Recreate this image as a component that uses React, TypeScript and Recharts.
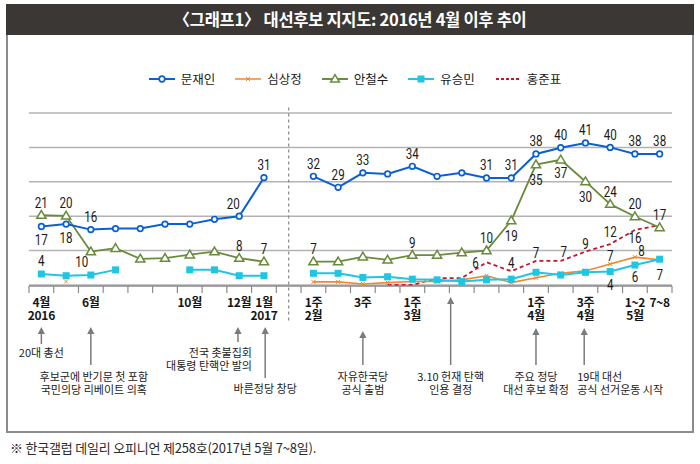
import React from 'react';
import { LineChart, Line, XAxis, YAxis, CartesianGrid, ReferenceLine, ReferenceDot } from 'recharts';

// ---------- data ----------
// 26 slots: 0..9 = 2016.4 ~ 2017.1 (monthly), 10 = break, 11..25 = 2017 weekly
const slotIndex = Array.from({ length: 26 }, (_, i) => i);

const moon = [17, 17.7, 16.1, 16.4, 16.4, 17.7, 17.7, 19.1, 20, 31.2, null, 31.6, 28.4, 32.6, 32.3, 34.5, 31.6, 32.6, 31.1, 31.1, 38.1, 39.9, 41.3, 40, 38.1, 38.1];
const sim = [null, 1, null, null, null, null, null, null, null, null, null, 0.9, 0.9, 0.3, 0.7, 1, 1, 1.5, 2.7, 0.7, 2.1, 3.4, 4.1, 6.1, 8.1, 7.3];
const ahn = [20.3, 20.1, 9.7, 10.7, 7.6, 7.8, 8.8, 9.7, 7.8, 6.8, null, 6.8, 6.8, 8.2, 7.3, 8.7, 8.7, 9.4, 10, 18.7, 35, 36.4, 30.1, 23.5, 19.9, 16.7];
const yoo = [3.2, 2.7, 2.9, 4.4, null, null, 4.4, 4.4, 2.7, 2.7, null, 3.4, 3.4, 2.2, 2.4, 1.7, 1.5, 1, 1.5, 1.7, 3.7, 2.9, 3.7, 3.9, 5.8, 7.5];
const hong = [null, null, null, null, null, null, null, null, null, null, null, null, null, null, 0, 0, 2, 2, 6.6, 4, 7, 7, 9.7, 11.9, 16, 17.4];

// printed value labels (null = no label)
const moonLabels = ['17', '18', '16', null, null, null, null, null, '20', '31', null, '32', '29', '33', null, '34', null, null, '31', '31', '38', '40', '41', '40', '38', '38'];
const simLabels = [null, null, null, null, null, null, null, null, null, null, null, null, null, null, null, null, null, null, null, null, null, null, null, '7', '8', null];
const ahnLabels = ['21', '20', '10', null, null, null, null, null, '8', '7', null, '7', null, null, null, '9', null, null, '10', '19', '35', '37', '30', '24', '20', '17'];
const yooLabels = ['4', null, null, null, null, null, null, null, null, null, null, null, null, null, null, null, null, null, null, null, null, null, null, '4', '6', '7'];
const hongLabels = [null, null, null, null, null, null, null, null, null, null, null, null, null, null, null, null, null, null, '6', '4', '7', '7', '9', '12', '16', null];

// x-axis category labels
const monthTickSlots = [0, 2, 6, 8, 9, 11, 13, 15, 20, 22, 24, 25];
const monthTickLabels = [['4월', '2016'], ['6월'], ['10월'], ['12월'], ['1월', '2017'], ['1주', '2월'], ['3주'], ['1주', '3월'], ['1주', '4월'], ['3주', '4월'], ['1~2', '5월'], ['7~8']];

// event annotations
const eventSlots = [0, 2, 7.95, 9.05, 13, 16.55, 20, 21.95];
const eventTexts = [
  ['20대 총선'],
  ['후보군에 반기문 첫 포함', '국민의당 리베이트 의혹'],
  ['전국 촛불집회', '대통령 탄핵안 발의'],
  ['바른정당 창당'],
  ['자유한국당', '공식 출범'],
  ['3.10 헌재 탄핵', '인용 결정'],
  ['주요 정당', '대선 후보 확정'],
  ['19대 대선', '공식 선거운동 시작'],
];

const seriesNames = ['문재인', '심상정', '안철수', '유승민', '홍준표'];

// ---------- layout / style (not data) ----------
const COLORS = { moon: '#0b5fd3', sim: '#ec8a2c', ahn: '#6a8b3b', yoo: '#1fc6e4', hong: '#c3172f' };
const KR = '"Noto Sans CJK KR", "Noto Sans", sans-serif';
const NUM = 'Roboto, "DejaVu Sans", sans-serif';
const AXIS_GRAY = '#8a8a8a';

const eventLayout = [
  { tip: 42, end: 59, text: 68, anchor: 'middle', dx: 0 },
  { tip: 42, end: 80, text: 92, anchor: 'middle', dx: 3 },
  { tip: 42, end: 57, text: 68, anchor: 'end', dx: 14 },
  { tip: 42, end: 93, text: 104, anchor: 'middle', dx: 0 },
  { tip: 46, end: 80, text: 92, anchor: 'middle', dx: 0 },
  { tip: 12, end: 80, text: 92, anchor: 'middle', dx: 0 },
  { tip: 43, end: 80, text: 92, anchor: 'middle', dx: 0 },
  { tip: 43, end: 80, text: 92, anchor: 'start', dx: -7 },
];

const moonPlace = ['b', 'b', 'a', '', '', '', '', '', 'al', 'a', '', 'a', 'a', 'a', '', 'a', '', '', 'a', 'a', 'a', 'a', 'a', 'a', 'a', 'a'];
const simPlace = ['', '', '', '', '', '', '', '', '', '', '', '', '', '', '', '', '', '', '', '', '', '', '', 'as', 'ar', ''];
const ahnPlace = ['a', 'a', 'bl', '', '', '', '', '', 'a', 'a', '', 'a', '', '', '', 'a', '', '', 'a', 'b2', 'b2', 'b', 'b2', 'a', 'a', 'a'];
const yooPlace = ['a', '', '', '', '', '', '', '', '', '', '', '', '', '', '', '', '', '', '', '', '', '', '', 'b', 'bm', 'b2'];
const hongPlace = ['', '', '', '', '', '', '', '', '', '', '', '', '', '', '', '', '', '', 'l', 'as', 'as', 'asr', 'as', 'a', 'bs', ''];

const placeOffset: Record<string, [number, number]> = {
  a: [0, -12.5], al: [-6, -12.5], ar: [6.5, -6], as: [0, -8], asr: [3, -8.5],
  b: [0, 13.5], bm: [0, 12], b2: [0, 15.5], bl: [-9, 10], bs: [0, 8.5], l: [-11, 0.5],
};

const rows = slotIndex.map((i) => ({
  x: i + 0.5,
  moon: moon[i],
  sim: sim[i],
  ahn: ahn[i],
  yoo: yoo[i],
  hong: hong[i],
}));

const boundaryTicks = Array.from({ length: 27 }, (_, i) => i);
const monthTickPos = monthTickSlots.map((s) => s + 0.5);

const makeLabel = (texts: (string | null)[], place: string[]) => (props: any) => {
  const { x, y, index } = props;
  const t = texts[index];
  if (t == null || x == null || y == null || isNaN(x) || isNaN(y)) return <g key={`lb${index}`} />;
  const [dx, dy] = placeOffset[place[index] || 'a'];
  return (
    <text
      key={`lb${index}`}
      transform={`translate(${x + dx},${y + dy}) scale(0.8,1)`}
      textAnchor="middle"
      dominantBaseline="central"
      fontSize={14.5}
      fontFamily={NUM}
      fill="#1a1a1a"
    >
      {t}
    </text>
  );
};

const circleDot = (p: any) => {
  if (p.cy == null || isNaN(p.cy)) return <g key={`c${p.index}`} />;
  return <circle key={`c${p.index}`} cx={p.cx} cy={p.cy} r={2.8} fill="#fff" stroke={COLORS.moon} strokeWidth={1.7} />;
};
const triDot = (p: any) => {
  if (p.cy == null || isNaN(p.cy)) return <g key={`t${p.index}`} />;
  const { cx, cy } = p;
  return (
    <polygon
      key={`t${p.index}`}
      points={`${cx},${cy - 4.6} ${cx + 4.6},${cy + 3.2} ${cx - 4.6},${cy + 3.2}`}
      fill="#fff"
      stroke={COLORS.ahn}
      strokeWidth={1.5}
    />
  );
};
const squareDot = (p: any) => {
  if (p.cy == null || isNaN(p.cy)) return <g key={`s${p.index}`} />;
  return <rect key={`s${p.index}`} x={p.cx - 3.5} y={p.cy - 3.5} width={7} height={7} fill={COLORS.yoo} />;
};
const xDot = (p: any) => {
  if (p.cy == null || isNaN(p.cy)) return <g key={`x${p.index}`} />;
  const { cx, cy } = p;
  return (
    <g key={`x${p.index}`} stroke={COLORS.sim} strokeWidth={1}>
      <line x1={cx - 2} y1={cy - 2} x2={cx + 2} y2={cy + 2} />
      <line x1={cx - 2} y1={cy + 2} x2={cx + 2} y2={cy - 2} />
    </g>
  );
};

// y passed in is the top of the month axis (1px below the plot bottom)
const MonthTick = (props: any) => {
  const { x, y, payload } = props;
  const i = monthTickPos.indexOf(payload.value);
  const lines = i >= 0 ? monthTickLabels[i] : [];
  return (
    <g>
      <text
        x={x}
        y={y + 22}
        textAnchor="middle"
        fontFamily={KR}
        fontWeight={700}
        fontSize={12}
        letterSpacing={-0.3}
        fill="#151515"
      >
        {lines.map((l, k) => (
          <tspan key={k} x={x} dy={k === 0 ? 0 : 13}>
            {l}
          </tspan>
        ))}
      </text>
    </g>
  );
};

// tick mark drawn downward from the axis line
const BoundaryTick = (props: any) => {
  const { x, y } = props;
  return <line x1={x} x2={x} y1={y} y2={y + 7} stroke={AXIS_GRAY} strokeWidth={1.2} />;
};

const makeEventShape = (k: number) => (p: any) => {
  const { cx, cy } = p;
  const L = eventLayout[k];
  const lines = eventTexts[k];
  const col = '#7b7b7b';
  return (
    <g>
      <polygon points={`${cx},${cy + L.tip} ${cx - 3.6},${cy + L.tip + 7} ${cx + 3.6},${cy + L.tip + 7}`} fill={col} />
      <line x1={cx} y1={cy + L.tip + 6} x2={cx} y2={cy + L.end} stroke={col} strokeWidth={1.5} />
      <text
        x={cx + L.dx}
        y={cy + L.text + 4}
        textAnchor={L.anchor as any}
        fontFamily={KR}
        fontSize={11}
        fill="#222"
      >
        {lines.map((l, j) => (
          <tspan key={j} x={cx + L.dx} dy={j === 0 ? 0 : 12.6}>
            {l}
          </tspan>
        ))}
      </text>
    </g>
  );
};

const LegendIcon = ({ k }: { k: number }) => {
  const keys = ['moon', 'sim', 'ahn', 'yoo', 'hong'];
  const c = (COLORS as any)[keys[k]];
  return (
    <svg width={26} height={12} style={{ display: 'block' }}>
      {k === 4 ? (
        <line x1={1} y1={6} x2={25} y2={6} stroke={c} strokeWidth={1.8} strokeDasharray="3 2" />
      ) : (
        <line x1={0} y1={6} x2={26} y2={6} stroke={c} strokeWidth={k === 1 ? 1.5 : 2} />
      )}
      {k === 0 && <circle cx={13} cy={6} r={2.8} fill="#fff" stroke={c} strokeWidth={1.7} />}
      {k === 1 && (
        <g stroke={c} strokeWidth={1}>
          <line x1={11} y1={4} x2={15} y2={8} />
          <line x1={11} y1={8} x2={15} y2={4} />
        </g>
      )}
      {k === 2 && <polygon points="13,1.6 17.4,9 8.6,9" fill="#fff" stroke={c} strokeWidth={1.5} />}
      {k === 3 && <rect x={9.5} y={2.5} width={7} height={7} fill={c} />}
    </svg>
  );
};

export default function App() {
  return (
    <div style={{ position: 'fixed', left: 0, top: 0, width: 700, height: 464, background: '#fff', fontFamily: KR }}>
      <div
        style={{
          position: 'absolute', left: 6, top: 4, width: 688, height: 429,
          border: '2px solid #8c8c8c', boxSizing: 'border-box',
        }}
      />
      <div
        style={{
          position: 'absolute', left: 6, top: 4, width: 688, height: 31, background: '#3b3735',
          color: '#fff', fontWeight: 700, fontSize: 16.5, textAlign: 'center', lineHeight: '31px',
          letterSpacing: -0.3,
        }}
      >
        〈그래프1〉 대선후보 지지도: 2016년 4월 이후 추이
      </div>
      <div
        style={{
          position: 'absolute', left: 5, top: 71, width: 700, height: 16,
          display: 'flex', justifyContent: 'center', alignItems: 'center', gap: 20,
        }}
      >
        {seriesNames.map((n, k) => (
          <div key={n} style={{ display: 'flex', alignItems: 'center', gap: 6 }}>
            <LegendIcon k={k} />
            <span style={{ fontSize: 12.5, color: '#1a1a1a', lineHeight: '16px' }}>{n}</span>
          </div>
        ))}
      </div>
      <div style={{ position: 'absolute', left: 0, top: 0 }}>
        <LineChart width={700} height={464} data={rows} margin={{ top: 113, right: 28, bottom: 177, left: 29 }}>
          <CartesianGrid xAxisId="t" vertical={false} stroke="#b3b3b3" strokeWidth={1.5} />
          <YAxis hide domain={[0, 50]} ticks={[0, 10, 20, 30, 40, 50]} />
          <XAxis
            xAxisId="t"
            type="number"
            dataKey="x"
            domain={[0, 26]}
            ticks={boundaryTicks}
            interval={0}
            height={1}
            tick={BoundaryTick}
            tickSize={0}
            tickMargin={0}
            tickLine={false}
            axisLine={{ stroke: AXIS_GRAY, strokeWidth: 1.5 }}
          />
          <XAxis
            xAxisId="m"
            type="number"
            dataKey="x"
            domain={[0, 26]}
            ticks={monthTickPos}
            interval={0}
            height={1}
            tick={MonthTick}
            tickSize={0}
            tickMargin={0}
            axisLine={false}
            tickLine={false}
          />
          <ReferenceLine
            xAxisId="t"
            segment={[{ x: 10.5, y: 51.6 }, { x: 10.5, y: -10.8 }]}
            stroke={AXIS_GRAY}
            strokeWidth={1.2}
            strokeDasharray="3 3"
            ifOverflow="visible"
          />
          {eventSlots.map((s, k) => (
            <ReferenceDot
              key={k}
              xAxisId="t"
              x={s + 0.5}
              y={0}
              r={0}
              ifOverflow="visible"
              shape={makeEventShape(k)}
            />
          ))}
          <Line
            xAxisId="t"
            dataKey="hong"
            name={seriesNames[4]}
            stroke={COLORS.hong}
            strokeWidth={1.8}
            strokeDasharray="4 3"
            dot={false}
            activeDot={false}
            connectNulls={false}
            isAnimationActive={false}
            label={makeLabel(hongLabels, hongPlace)}
          />
          <Line
            xAxisId="t"
            dataKey="sim"
            name={seriesNames[1]}
            stroke={COLORS.sim}
            strokeWidth={1.6}
            dot={xDot}
            activeDot={false}
            connectNulls={false}
            isAnimationActive={false}
            label={makeLabel(simLabels, simPlace)}
          />
          <Line
            xAxisId="t"
            dataKey="yoo"
            name={seriesNames[3]}
            stroke={COLORS.yoo}
            strokeWidth={2}
            dot={squareDot}
            activeDot={false}
            connectNulls={false}
            isAnimationActive={false}
            label={makeLabel(yooLabels, yooPlace)}
          />
          <Line
            xAxisId="t"
            dataKey="ahn"
            name={seriesNames[2]}
            stroke={COLORS.ahn}
            strokeWidth={1.8}
            dot={triDot}
            activeDot={false}
            connectNulls={false}
            isAnimationActive={false}
            label={makeLabel(ahnLabels, ahnPlace)}
          />
          <Line
            xAxisId="t"
            dataKey="moon"
            name={seriesNames[0]}
            stroke={COLORS.moon}
            strokeWidth={2}
            dot={circleDot}
            activeDot={false}
            connectNulls={false}
            isAnimationActive={false}
            label={makeLabel(moonLabels, moonPlace)}
          />
        </LineChart>
      </div>
      <div
        style={{
          position: 'absolute', left: 10, top: 440, fontSize: 13, color: '#2a2a2a',
          lineHeight: '16px', whiteSpace: 'nowrap', letterSpacing: -0.2,
        }}
      >
        ※ 한국갤럽 데일리 오피니언 제258호(2017년 5월 7~8일).
      </div>
    </div>
  );
}
